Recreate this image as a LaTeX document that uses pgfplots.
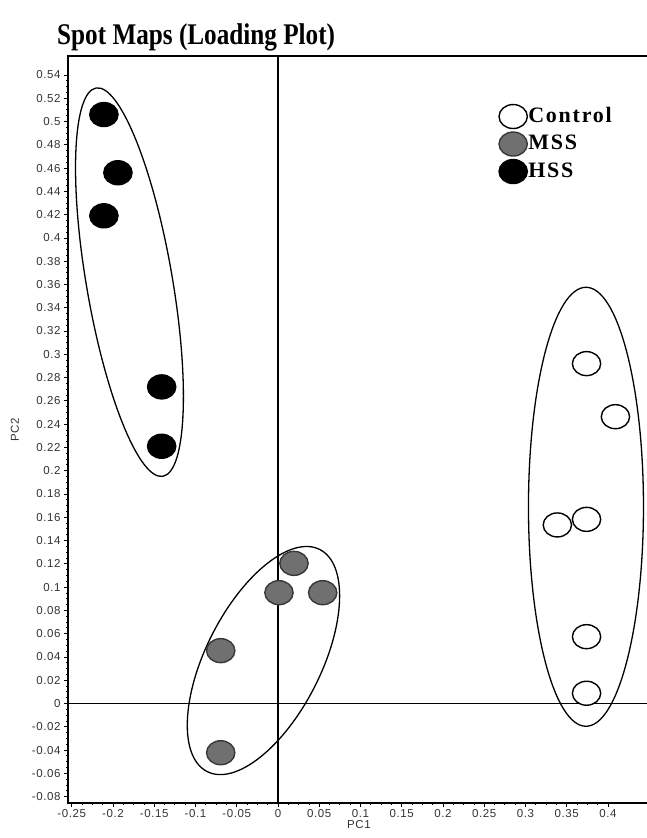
\documentclass[border=0pt]{standalone}
\usepackage{fontspec}
\setmainfont{Liberation Sans}
\newfontfamily\tickfont{Liberation Sans}[LetterSpace=5]
\newfontfamily\titlefont{Liberation Serif}
\newfontfamily\legfont{Liberation Serif}[LetterSpace=8]
\usepackage{graphicx}
\usepackage{pgfplots}
\pgfplotsset{compat=1.18}
\usetikzlibrary{shapes.geometric}
\definecolor{mssfill}{HTML}{707070}
\definecolor{mssdraw}{HTML}{383838}
\begin{document}
\begin{tikzpicture}
\path[use as bounding box] (0,0) rectangle (647pt,838pt);
\begin{axis}[
  at={(68pt,35pt)}, anchor=south west,
  scale only axis, width=582pt, height=747pt,
  xmin=-0.2545, xmax=0.4509, ymin=-0.0855, ymax=0.5563,
  xtick={-0.25,-0.2,-0.15,-0.1,-0.05,0,0.05,0.1,0.15,0.2,0.25,0.3,0.35,0.4},
  ytick={-0.08,-0.06,-0.04,-0.02,0,0.02,0.04,0.06,0.08,0.1,0.12,0.14,0.16,0.18,0.2,0.22,0.24,0.26,0.28,0.3,0.32,0.34,0.36,0.38,0.4,0.42,0.44,0.46,0.48,0.5,0.52,0.54},
  minor x tick num=3, minor y tick num=3,
  tick align=outside, tick pos=left,
  major tick length=4pt, minor tick length=2pt,
  tick style={black, line width=0.8pt},
  axis line style={line width=1.6pt},
  scaled ticks=false,
  /pgf/number format/.cd, fixed, precision=2, assume math mode=true,
  /pgfplots/.cd,
  ticklabel style={font=\tickfont\fontsize{11.5}{13}\selectfont, text=black!80},
  xticklabel style={yshift=1pt},
  xlabel={PC1}, ylabel={PC2},
  label style={font=\tickfont\fontsize{11.5}{13}\selectfont, text=black!80},
  xlabel style={yshift=4pt},
  ylabel style={yshift=6pt},
  legend style={at={(axis cs:0.2679,0.5146)}, anchor=north west, draw=none, fill=none,
    font=\legfont\bfseries\fontsize{22}{24}\selectfont, row sep=3.5pt, column sep=0pt,
    nodes={inner sep=1pt}, inner sep=0pt, outer sep=0pt},
  legend cell align=left,
  legend image code/.code={\draw[#1, only marks, yshift=-1pt] plot coordinates {(0pt,0pt)};},
]
\draw[line width=1.8pt] (axis cs:0,-0.0855) -- (axis cs:0,0.5563);
\draw[line width=1.8pt] (axis cs:-0.2545,0) -- (axis cs:0.4509,0);
\node[draw, ellipse, line width=1.3pt, inner sep=0pt, minimum width=394pt, minimum height=86pt, rotate=99.75] at (axis cs:-0.180,0.362) {};
\node[draw, ellipse, line width=1.3pt, inner sep=0pt, minimum width=249pt, minimum height=115pt, rotate=63.1] at (axis cs:-0.0176,0.0369) {};
\node[draw, ellipse, line width=1.3pt, inner sep=0pt, minimum width=115pt, minimum height=439pt] at (axis cs:0.3733,0.169) {};

\addplot[only marks, mark=*, mark size=12pt, mark options={xscale=1.18, fill=white, draw=black, line width=1.4pt}]
  coordinates {(0.374,0.292) (0.409,0.2464) (0.3386,0.1534) (0.374,0.1582) (0.374,0.0574) (0.374,0.0088)};
\addlegendentry{Control}
\addplot[only marks, mark=*, mark size=12pt, mark options={xscale=1.18, fill=mssfill, draw=mssdraw, line width=1.4pt}]
  coordinates {(0.0194,0.1204) (0.0012,0.0952) (0.0542,0.0952) (-0.0694,0.0454) (-0.0694,-0.0423)};
\addlegendentry{MSS}
\addplot[only marks, mark=*, mark size=12pt, mark options={xscale=1.18, fill=black, draw=black, line width=1.4pt}]
  coordinates {(-0.211,0.506) (-0.194,0.456) (-0.211,0.419) (-0.141,0.272) (-0.141,0.221)};
\addlegendentry{HSS}
\end{axis}
\node[anchor=base west, inner sep=0pt] at (57pt,793pt) {\scalebox{0.84}[1]{\titlefont\bfseries\fontsize{30}{36}\selectfont Spot Maps (Loading Plot)}};
\end{tikzpicture}
\end{document}
